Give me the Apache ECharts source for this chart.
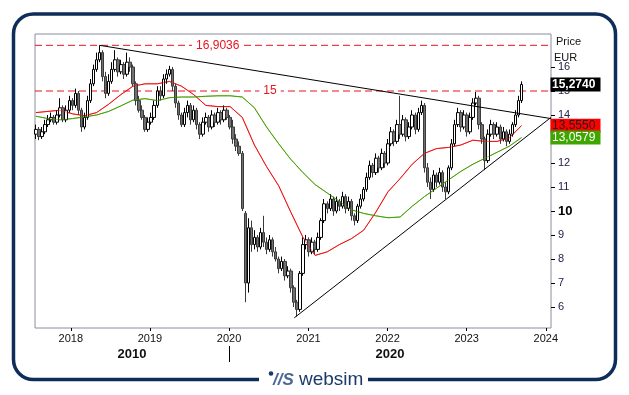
<!DOCTYPE html>
<html><head><meta charset="utf-8">
<script src="https://cdn.jsdelivr.net/npm/echarts@6/dist/echarts.min.js"></script>
<style>html,body{margin:0;padding:0;background:#fff;}#c{width:629px;height:395px;}</style>
</head><body><div id="c"></div>
<script>
// ---- data ----
const startDate = '2017-07-24';   // first candle
const stepDays = 14;              // one candle per two weeks
const opens = [
13.2,13.4,13.1,13.3,13.6, 13.8,13.9,13.7,14.0,14.3, 13.8,14.2,14.6,14.4,14.9, 14.2,13.5,13.9,14.6,15.3,
15.9,16.3,16.6,15.6,14.9, 15.4,15.9,16.3,15.8,16.1, 15.7,16.2,16.0,15.3,14.6, 14.2,13.9,13.4,13.7,13.9,
14.4,15.0,14.8,15.5,15.7, 15.9,15.2,14.5,14.0,13.6, 14.1,14.4,13.8,14.2,13.6, 13.2,13.7,13.9,13.5,14.0,
13.7,14.1,13.8,14.2,13.9, 13.5,13.0,12.7,12.4,9.9, 7.0,9.3,8.6,8.9,8.5, 9.1,8.7,8.4,8.8,8.3,
8.0,7.6,7.9,7.3,7.5, 6.8,6.2,5.9,7.4,8.6, 8.8,8.3,8.7,8.4,8.9, 9.6,10.3,10.1,10.5,10.0,
10.4,10.2,10.6,10.1,10.4, 9.8,9.6,10.2,10.5,10.9, 11.4,11.9,11.6,12.2,11.8, 12.4,12.0,12.8,13.3,12.9,
13.6,13.2,13.8,13.1,13.5, 14.0,13.4,14.1,14.4,11.8, 11.2,10.9,11.5,11.2,11.6, 11.0,10.8,11.8,12.8,13.6,
14.1,13.5,14.0,13.3,13.9, 14.5,14.7,13.6,13.0,12.1, 13.2,13.6,13.2,13.5,13.0, 13.3,12.9,13.2,13.6,14.0,
14.6];
const closes = [
13.4,13.1,13.3,13.6,13.8, 13.9,13.7,14.0,14.3,13.8, 14.2,14.6,14.4,14.9,14.2, 13.5,13.9,14.6,15.3,15.9,
16.3,16.6,15.6,14.9,15.4, 15.9,16.3,15.8,16.1,15.7, 16.2,16.0,15.3,14.6,14.2, 13.9,13.4,13.7,13.9,14.4,
15.0,14.8,15.5,15.7,15.9, 15.2,14.5,14.0,13.6,14.1, 14.4,13.8,14.2,13.6,13.2, 13.7,13.9,13.5,14.0,13.7,
14.1,13.8,14.2,13.9,13.5, 13.0,12.7,12.4,10.1,7.0, 9.3,8.6,8.9,8.5,9.1, 8.7,8.4,8.8,8.3,8.0,
7.6,7.9,7.3,7.5,6.8, 6.2,5.9,7.4,8.6,8.8, 8.3,8.7,8.4,8.9,9.6, 10.3,10.1,10.5,10.0,10.4,
10.2,10.6,10.1,10.4,9.8, 9.6,10.2,10.5,10.9,11.4, 11.9,11.6,12.2,11.8,12.4, 12.0,12.8,13.3,12.9,13.6,
13.2,13.8,13.1,13.5,14.0, 13.4,14.1,14.4,11.8,11.2, 10.9,11.5,11.2,11.6,11.0, 10.8,11.8,12.8,13.6,14.1,
13.5,14.0,13.3,13.9,14.5, 14.7,13.6,13.0,12.1,13.2, 13.6,13.2,13.5,13.0,13.3, 12.9,13.2,13.6,14.0,14.6,
15.274];
const lows = [
13.0,12.95,13.0,13.2,13.5, 13.7,13.6,13.6,13.9,13.7, 13.7,14.1,14.2,14.3,14.0, 13.3,13.4,13.8,14.5,15.2,
15.8,16.2,15.4,14.7,14.8, 15.3,15.8,15.6,15.7,15.5, 15.6,15.8,15.2,14.4,14.1, 13.8,13.3,13.3,13.6,13.8,
14.3,14.6,14.7,15.3,15.6, 15.0,14.3,13.8,13.5,13.5, 13.9,13.6,13.7,13.4,13.0, 13.1,13.6,13.3,13.4,13.5,
13.6,13.6,13.7,13.8,13.4, 12.8,12.5,12.3,10.0,6.2, 6.6,8.3,8.4,8.3,8.4, 8.5,8.2,8.3,8.1,7.9,
7.4,7.5,7.1,7.2,6.6, 6.0,5.6,5.8,7.3,8.4, 8.1,8.2,8.2,8.3,8.8, 9.5,9.9,10.0,9.8,9.9,
10.0,10.1,9.9,10.0,9.6, 9.4,9.5,10.1,10.4,10.8, 11.3,11.4,11.5,11.6,11.7, 11.8,11.9,12.7,12.7,12.8,
13.0,13.1,12.9,13.0,13.4, 13.2,13.3,14.0,11.6,11.0, 10.5,10.8,11.0,11.1,10.8, 10.5,10.7,11.7,12.7,13.5,
13.3,13.4,13.1,13.2,13.8, 14.4,13.4,12.8,11.7,12.0, 13.1,13.0,13.1,12.8,12.9, 12.7,12.8,13.1,13.5,13.9,
14.5];
const highs = [
13.6,13.5,13.5,13.8,14.0, 14.1,14.0,14.2,14.7,14.4, 14.4,14.8,14.7,15.1,15.0, 14.3,14.1,14.8,15.5,16.1,
16.6,16.9036,16.7,15.8,15.7, 16.2,16.7,16.4,16.3,16.2, 16.6,16.4,16.1,15.4,14.8, 14.4,14.0,13.9,14.1,14.6,
15.2,15.2,15.7,15.9,16.05, 16.0,15.3,14.6,14.1,14.3, 14.6,14.5,14.4,14.3,13.7, 13.9,14.1,14.0,14.2,14.1,
14.3,14.2,14.4,14.3,14.0, 13.8,13.2,12.9,12.5,10.0, 9.7,9.6,9.2,9.0,9.3, 9.8,8.9,9.0,8.9,8.5,
8.1,8.1,8.0,7.7,7.6, 6.9,6.3,7.5,8.9,9.0, 8.9,8.9,8.8,9.1,9.7, 10.5,10.4,10.7,10.6,10.6,
10.5,10.8,10.7,10.6,10.5, 9.9,10.3,10.7,11.0,11.6, 12.1,12.0,12.4,12.3,12.6, 12.5,13.0,13.5,13.4,13.8,
14.8,14.0,13.9,13.7,14.2, 14.1,14.3,14.6,14.5,12.0, 11.4,11.7,11.6,11.8,11.7, 11.2,11.9,13.0,13.8,14.3,
14.2,14.2,14.1,14.1,14.7, 14.96,14.8,13.7,13.1,13.4, 13.8,13.7,13.7,13.6,13.5, 13.4,13.4,13.7,14.2,14.8,
15.4];
const maEvery = 4; // moving averages read at every 4th candle
const maRed = [14.1,14.15,14.2,14.05,13.97,14.1,14.45,14.85,15.2,15.3,
15.3,15.4,15.2,14.85,14.4,14.35,14.35,13.9,12.75,11.85,
11.05,9.95,8.9,8.15,8.3,8.6,8.85,9.2,9.95,10.8,
11.35,11.95,12.4,12.6,12.65,12.75,12.95,12.9,12.9,13.05,13.555];
const maGreen = [13.95,13.85,13.8,13.85,13.92,14.0,14.15,14.38,14.62,14.68,
14.6,14.72,14.75,14.75,14.78,14.8,14.8,14.75,14.3,13.5,
12.8,12.15,11.6,11.1,10.75,10.4,10.05,9.9,9.8,9.72,
9.75,10.2,10.6,10.95,11.3,11.65,11.95,12.2,12.45,12.7,13.0579];
const trendDown = [['2018-05-14', 16.9036], ['2024-01-25', 13.85]];
const trendUp = [['2020-10-28', 5.55], ['2024-01-25', 13.9]];
const levels = [16.9036, 15];
const levelLabels = ['16,9036', '15'];
const levelLabelDates = ['2019-11-10', '2020-07-08'];
const yTicks = [6,7,8,9,10,11,12,13,14,15,16];
const tagValues = [15.2740, 13.5550, 13.0579];
const tagLabels = ['15,2740', '13,5550', '13,0579'];
const decadeLabels = ['2010', '2020'];
const decadeBoundary = '2020-01-01';
const xMin = '2017-07-20', xMax = '2024-01-25';
const yMin = 5.125, yMax = 17.375;

// ---- build ----
const DAY = 86400000;
const t0 = Date.parse(startDate + 'T00:00:00Z');
const dates = closes.map((_, i) => t0 + i * stepDays * DAY);
const candleData = dates.map((d, i) => [d, opens[i], closes[i], lows[i], highs[i]]);
const redData = maRed.map((v, k) => [dates[k * maEvery], v]);
const greenData = maGreen.map((v, k) => [dates[k * maEvery], v]);
const toTs = s => Date.parse(s + 'T00:00:00Z');
const FONT = 'Arial, "Liberation Sans", sans-serif';
const LEVEL_RED = '#e8141e';

const levelSeries = levels.map(v => ({
  type: 'line', data: [[toTs(xMin), v], [toTs(xMax), v]], showSymbol: false, z: 1, silent: true,
  color: LEVEL_RED,
  lineStyle: {color: LEVEL_RED, type: [7, 4], width: 1}
}));

const chart = echarts.init(document.getElementById('c'), null, {width: 629, height: 395});
chart.setOption({
  animation: false,
  backgroundColor: '#fff',
  textStyle: {fontFamily: FONT},
  grid: {left: 35, right: 78, top: 34, bottom: 67, show: true, borderColor: '#8c8c9c', borderWidth: 1, backgroundColor: '#fff'},
  xAxis: {
    type: 'time', min: toTs(xMin), max: toTs(xMax),
    minInterval: 365 * DAY, maxInterval: 366 * DAY,
    axisLine: {show: false},
    axisTick: {show: true, length: 3, lineStyle: {color: '#000'}},
    axisLabel: {fontSize: 11, color: '#111', margin: 5, fontWeight: 'normal',
      formatter: v => String(new Date(v).getUTCFullYear())},
    splitLine: {show: false}
  },
  yAxis: {
    type: 'value', position: 'right', min: yMin, max: yMax, scale: true,
    axisLine: {show: false},
    axisTick: {show: true, length: 4, lineStyle: {color: '#000'}, customValues: yTicks},
    axisLabel: {fontSize: 11, color: '#22224a', margin: 7, customValues: yTicks,
      formatter: v => v === 10 ? '{b|10}' : String(v),
      rich: {b: {fontSize: 13, fontWeight: 'bold', color: '#000'}}},
    splitLine: {show: false}
  },
  series: levelSeries.concat([
    {type: 'line', data: redData, showSymbol: false, z: 1, color: '#ee1111', lineStyle: {color: '#ee1111', width: 1}},
    {type: 'line', data: greenData, showSymbol: false, z: 1, color: '#44a000', lineStyle: {color: '#44a000', width: 1}},
    {
      type: 'candlestick', data: candleData, barWidth: 3, z: 2,
      itemStyle: {color: '#ffffff', color0: '#707070', borderColor: '#000000', borderColor0: '#3a3a3a', borderWidth: 1}
    },
    {type: 'line', data: redData, showSymbol: false, z: 3, color: '#ee1111', lineStyle: {color: '#ee1111', width: 1, opacity: 0.55}},
    {type: 'line', data: greenData, showSymbol: false, z: 3, color: '#44a000', lineStyle: {color: '#44a000', width: 1, opacity: 0.55}},
    {type: 'line', data: trendDown.map(p => [toTs(p[0]), p[1]]), showSymbol: false, z: 4, color: '#000', lineStyle: {color: '#000', width: 1}},
    {type: 'line', data: trendUp.map(p => [toTs(p[0]), p[1]]), showSymbol: false, z: 4, color: '#000', lineStyle: {color: '#000', width: 1}}
  ])
});

const px = v => chart.convertToPixel({xAxisIndex: 0}, v);
const py = v => chart.convertToPixel({yAxisIndex: 0}, v);
const left = px(toTs(xMin)), right = px(toTs(xMax)), xb = px(toTs(decadeBoundary));
const tagBg = ['#000000', '#ff0000', '#3fa600'];
const tagFg = ['#ffffff', '#1a1a1a', '#ffffff'];
const g = [];
g.push({type: 'rect', z: 100, shape: {x: 13.5, y: 14, width: 602, height: 365.5, r: 20}, style: {fill: 'none', stroke: '#0f2d5a', lineWidth: 3.5}});
g.push({type: 'rect', z: 101, shape: {x: 259, y: 374, width: 109, height: 14}, style: {fill: '#fff'}});
g.push({type: 'circle', z: 102, shape: {cx: 271, cy: 373.5, r: 2.3}, style: {fill: '#1b3a6b'}});
g.push({type: 'text', z: 102, x: 273, y: 380, style: {text: '//S', font: 'italic bold 17px ' + FONT, fill: '#4a6796', verticalAlign: 'middle'}});
g.push({type: 'text', z: 102, x: 299, y: 380, style: {text: 'websim', font: '19px ' + FONT, fill: '#1b3a6b', verticalAlign: 'middle'}});
g.push({type: 'text', z: 102, x: 556, y: 42, style: {text: 'Price', font: '11px ' + FONT, fill: '#111', verticalAlign: 'middle'}});
g.push({type: 'text', z: 102, x: 554, y: 58, style: {text: 'EUR', font: '11px ' + FONT, fill: '#111', verticalAlign: 'middle'}});
levels.forEach((v, i) => {
  g.push({type: 'text', z: 102, x: px(toTs(levelLabelDates[i])), y: py(v),
    style: {text: levelLabels[i], font: '12px ' + FONT, fill: LEVEL_RED, align: 'center', verticalAlign: 'middle', backgroundColor: '#fff', padding: [1, 4]}});
});
tagValues.forEach((v, i) => {
  const y = py(v);
  g.push({type: 'rect', z: 102, shape: {x: right - 0.5, y: y - 7, width: 50, height: 14}, style: {fill: tagBg[i]}});
  g.push({type: 'text', z: 103, x: right + 1, y: y, style: {text: tagLabels[i], font: (i === 0 ? 'bold ' : '') + '12px ' + FONT, fill: tagFg[i], verticalAlign: 'middle'}});
});
g.push({type: 'line', z: 102, shape: {x1: Math.round(xb) + 0.5, y1: 346, x2: Math.round(xb) + 0.5, y2: 362}, style: {stroke: '#000', lineWidth: 1}});
g.push({type: 'text', z: 102, x: (left + xb) / 2, y: 354, style: {text: decadeLabels[0], font: 'bold 13px ' + FONT, fill: '#111', align: 'center', verticalAlign: 'middle'}});
g.push({type: 'text', z: 102, x: (xb + right) / 2, y: 354, style: {text: decadeLabels[1], font: 'bold 13px ' + FONT, fill: '#111', align: 'center', verticalAlign: 'middle'}});
chart.setOption({graphic: g});
</script></body></html>
